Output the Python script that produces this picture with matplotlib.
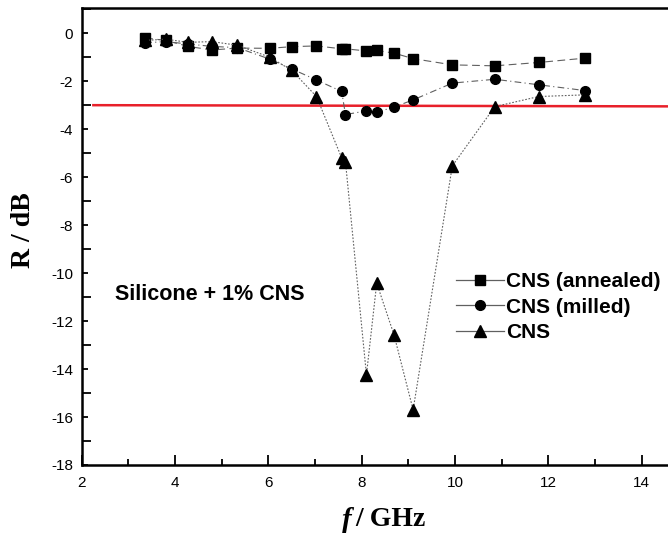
import matplotlib
matplotlib.use('Agg')
import matplotlib.pyplot as plt
from matplotlib.lines import Line2D
from matplotlib.ticker import MultipleLocator

# frequency points (GHz), same grid for all three samples
freq = [3.36, 3.8, 4.28, 4.79, 5.33, 6.03, 6.5, 7.03, 7.57, 7.65,
        8.1, 8.32, 8.69, 9.1, 9.94, 10.85, 11.79, 12.78]

r_annealed = [-0.2, -0.3, -0.55, -0.7, -0.62, -0.63, -0.56, -0.53, -0.65, -0.65,
              -0.74, -0.72, -0.83, -1.06, -1.32, -1.36, -1.22, -1.04]
r_milled = [-0.4, -0.35, -0.45, -0.55, -0.6, -1.08, -1.49, -1.95, -2.43, -3.39,
            -3.24, -3.29, -3.08, -2.78, -2.08, -1.92, -2.15, -2.39]
r_cns = [-0.3, -0.25, -0.38, -0.35, -0.5, -1.0, -1.55, -2.64, -5.2, -5.35,
         -14.24, -10.42, -12.57, -15.7, -5.53, -3.06, -2.64, -2.57]

labels = ['CNS (annealed)', 'CNS (milled)', 'CNS']
threshold = -3.0

plt.rcParams['axes.unicode_minus'] = False
sans = 'Liberation Sans'
serif = 'Liberation Serif'

fig = plt.figure(figsize=(6.68, 5.33), dpi=100)
ax = fig.add_axes([0.1223, 0.1276, 0.8777, 0.8569])

line_col = '#606060'
ax.plot(freq, r_annealed, linestyle=(0, (7, 4)), color=line_col, lw=0.8,
        marker='s', ms=6.5, mfc='black', mec='black', zorder=3)
ax.plot(freq, r_milled, linestyle=(0, (6, 3, 1, 3)), color=line_col, lw=0.8,
        marker='o', ms=7, mfc='black', mec='black', zorder=3)
ax.plot(freq, r_cns, linestyle=(0, (1.5, 1.5)), color=line_col, lw=0.8,
        marker='^', ms=8, mfc='black', mec='black', zorder=3)

# -3 dB reference line
ax.plot([2.25, 14.6], [threshold, threshold - 0.05], color='#e8202a', lw=1.8, zorder=2)

ax.set_xlim(2, 14.56)
ax.set_ylim(-18, 1.04)
ax.xaxis.set_major_locator(MultipleLocator(2))
ax.xaxis.set_minor_locator(MultipleLocator(1))
ax.yaxis.set_major_locator(MultipleLocator(2))
ax.yaxis.set_minor_locator(MultipleLocator(1))

ax.tick_params(axis='x', which='major', direction='in', length=7, width=1.3,
               labelsize=11, pad=8)
ax.tick_params(axis='x', which='minor', direction='in', length=4, width=1.3)
ax.tick_params(axis='y', which='major', direction='in', length=4, width=1.3,
               labelsize=11, pad=6)
ax.tick_params(axis='y', which='minor', direction='in', length=6.5, width=1.3)
for lab in ax.get_xticklabels() + ax.get_yticklabels():
    lab.set_fontfamily(sans)

for side in ['left', 'bottom', 'top']:
    ax.spines[side].set_linewidth(1.8)
ax.spines['right'].set_visible(False)

ax.text(2.71, -10.9, 'Silicone + 1% CNS', fontsize=15.5, fontweight='bold',
        family=sans, va='center', ha='left')

handles = [
    Line2D([], [], color=line_col, lw=0.9, marker='s', ms=6.5, mfc='black', mec='black'),
    Line2D([], [], color=line_col, lw=0.9, marker='o', ms=7, mfc='black', mec='black'),
    Line2D([], [], color=line_col, lw=0.9, marker='^', ms=8, mfc='black', mec='black'),
]
ax.legend(handles, labels, loc='upper left', bbox_to_anchor=(0.625, 0.44),
          frameon=False, handlelength=2.3, handletextpad=0.1, labelspacing=0.3,
          borderaxespad=0, prop={'family': sans, 'weight': 'bold', 'size': 15})

ax.set_ylabel('R / dB', family=serif, fontweight='bold', fontsize=20)
ax.yaxis.set_label_coords(-0.078, (533 - 230 - 68) / 457)

fig.text(352 / 668, 1 - 520 / 533, 'f', family=serif, fontweight='bold',
         style='italic', fontsize=21, ha='right', va='center')
fig.text(355 / 668, 1 - 520 / 533, '/ GHz', family=serif, fontweight='bold',
         fontsize=20, ha='left', va='center')

fig.savefig('out.png', dpi=100)
